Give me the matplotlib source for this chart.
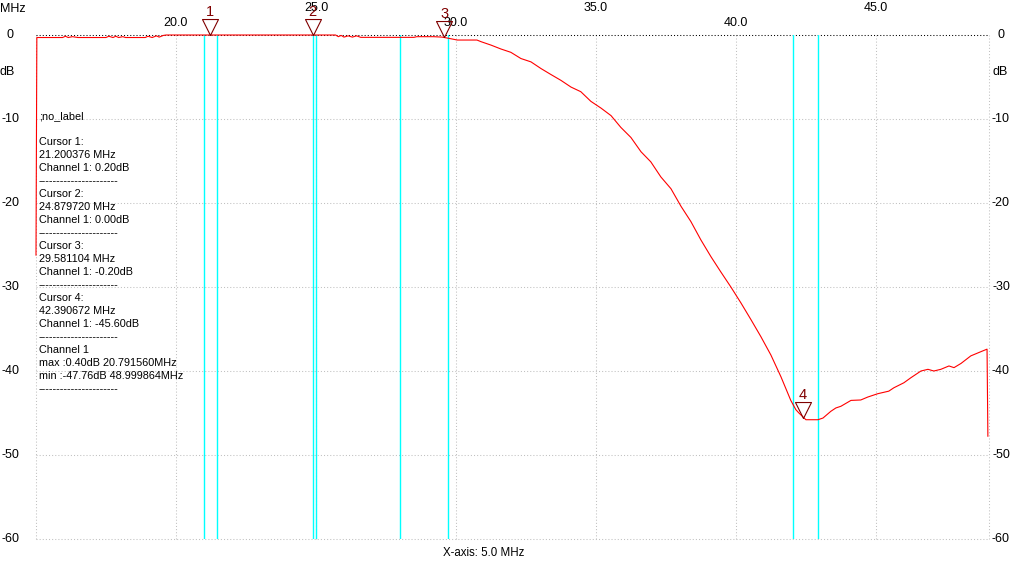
import matplotlib
matplotlib.use("Agg")
import matplotlib.pyplot as plt
import numpy as np

# measured response, channel 1 (MHz, dB)
freq = [15.00, 15.03, 15.5, 15.95, 16.05, 16.15, 16.3, 16.5, 17.5, 17.6, 17.75, 17.85,
        17.95, 18.1, 18.2, 18.9, 19.0, 19.15, 19.3, 19.4, 19.55, 19.65, 20.79, 25.7,
        25.8, 25.9, 26.0, 26.15, 26.3, 26.45, 26.6, 28.5, 28.6, 29.2, 29.5, 29.75,
        30.05, 30.75, 30.9, 31.25, 31.61, 31.96, 32.32, 32.68, 33.04, 33.39, 33.75,
        34.11, 34.46, 34.82, 35.18, 35.54, 35.89, 36.25, 36.61, 36.96, 37.32, 37.68,
        38.04, 38.39, 38.75, 39.11, 39.46, 39.82, 40.18, 40.54, 40.89, 41.25, 41.61,
        41.96, 42.14, 42.25, 42.5, 42.93, 43.11, 43.39, 43.57, 43.75, 44.11, 44.46,
        44.71, 45.07, 45.46, 45.64, 46.0, 46.25, 46.61, 46.86, 47.07, 47.32, 47.61,
        47.79, 48.04, 48.39, 48.75, 48.97, 49.0]
level = [-26.2, -0.3, -0.3, -0.3, -0.15, -0.3, -0.2, -0.3, -0.3, -0.15, -0.3, -0.15,
         -0.3, -0.2, -0.3, -0.3, -0.15, -0.3, -0.1, -0.25, -0.05, 0.0, 0.0, 0.0,
         -0.2, -0.05, -0.25, -0.1, -0.25, -0.1, -0.28, -0.28, -0.2, -0.2, -0.25, -0.4,
         -0.6, -0.6, -0.8, -1.2, -1.67, -2.06, -2.8, -3.2, -4.0, -4.7, -5.4,
         -6.2, -6.75, -7.9, -8.7, -9.6, -11.0, -12.2, -13.9, -15.1, -16.9, -18.3,
         -20.4, -22.2, -24.4, -26.4, -28.2, -30.0, -31.9, -33.9, -35.9, -38.1, -40.7,
         -43.5, -44.6, -45.0, -45.8, -45.8, -45.6, -44.8, -44.4, -44.2, -43.5, -43.45,
         -43.1, -42.7, -42.4, -42.0, -41.4, -40.8, -40.0, -39.8, -40.0, -39.8, -39.4,
         -39.6, -39.1, -38.2, -37.7, -37.4, -47.76]

cursor_freq = [21.200376, 24.879720, 29.581104, 42.390672]
cursor_db = [0.20, 0.00, -0.20, -45.60]
max_info = (0.40, 20.791560)
min_info = (-47.76, 48.999864)

# band edge lines
band_lines = [21.0, 21.45, 24.89, 24.99, 28.0, 29.7, 42.05, 42.92]

x_ticks = [20.0, 25.0, 30.0, 35.0, 40.0, 45.0]
y_ticks = [0, -10, -20, -30, -40, -50, -60]
x_min, x_max = 15.0, 49.04

W, H = 1024, 574
def fx(px):
    return px / W
def fy(py):
    return 1 - py / H

plt.rcParams['font.family'] = ['Liberation Sans', 'DejaVu Sans']
fig = plt.figure(figsize=(W / 100, H / 100), dpi=100)
fig.set_facecolor('w')
ax = fig.add_axes([fx(36), fy(539), (989 - 36) / W, (539 - 35) / H])
ax.set_xlim(x_min, x_max)
ax.set_ylim(-60, 0)
for s in ax.spines.values():
    s.set_visible(False)
ax.set_xticks([])
ax.set_yticks([])

grid_kw = dict(color='#c0c0c0', lw=0.75, ls=(0, (1, 2)), zorder=1)
for f in [x_min] + x_ticks + [x_max]:
    ax.axvline(f, clip_on=False, **grid_kw)
for d in y_ticks[1:]:
    ax.axhline(d, clip_on=False, **grid_kw)
ax.axhline(0, color='black', lw=0.75, ls=(0, (1, 2)), clip_on=False, zorder=1)

for f in band_lines:
    ax.axvline(f, color='#00ffff', lw=1.0, zorder=2)

ax.plot(freq, np.minimum(level, 0), color='#ff0000', lw=0.8, clip_on=False, zorder=3)

# cursor markers
tri = [(0, 0), (-1, 2), (1, 2), (0, 0)]
for i, (f, v) in enumerate(zip(cursor_freq, cursor_db)):
    ax.plot([f], [min(v, 0)], marker=tri, ms=23, mfc='none', mec='#800000',
            mew=0.8, clip_on=False, zorder=4)
    ax.annotate(str(i + 1), xy=(f, min(v, 0)), xytext=(0, 23), textcoords='offset pixels',
                ha='center', va='center', color='#800000', fontsize=10.5, zorder=4)

# axis labels
xt = ax.get_xaxis_transform()
for i, f in enumerate(x_ticks):
    ypos = (539 - 23) / 504 if i % 2 == 0 else (539 - 8) / 504
    ax.text(f, ypos, f"{f:.1f}", transform=xt, ha='center', va='center', fontsize=9)

yt = ax.get_yaxis_transform()
for d in y_ticks:
    ax.text((10 - 36) / 953, d, f"{d}", transform=yt, ha='center', va='center', fontsize=9)
    ax.text((1001 - 36) / 953, d, f"{d}", transform=yt, ha='center', va='center', fontsize=9)
ax.text((7 - 36) / 953, -4.4, 'dB', transform=yt, ha='center', va='center', fontsize=9)
ax.text((1000 - 36) / 953, -4.4, 'dB', transform=yt, ha='center', va='center', fontsize=9)
fig.text(fx(0), fy(9), 'MHz', ha='left', va='center', fontsize=9)
fig.text(fx(484), fy(553), 'X-axis: 5.0 MHz', ha='center', va='center', fontsize=8.3)

# cursor readout
dash = '-' * 22
lines = [';no_label', '']
for i, (f, v) in enumerate(zip(cursor_freq, cursor_db)):
    lines += [f"Cursor {i + 1}:", f"{f:.6f} MHz", f"Channel 1: {v:.2f}dB", dash]
lines += ['Channel 1',
          f"max :{max_info[0]:.2f}dB {max_info[1]:.6f}MHz",
          f"min :{min_info[0]:.2f}dB {min_info[1]:.6f}MHz",
          dash]
for k, s in enumerate(lines):
    fig.text(fx(39), fy(116 + 13 * k), s, ha='left', va='center', fontsize=7.8)

fig.savefig('out.png', dpi=100)
